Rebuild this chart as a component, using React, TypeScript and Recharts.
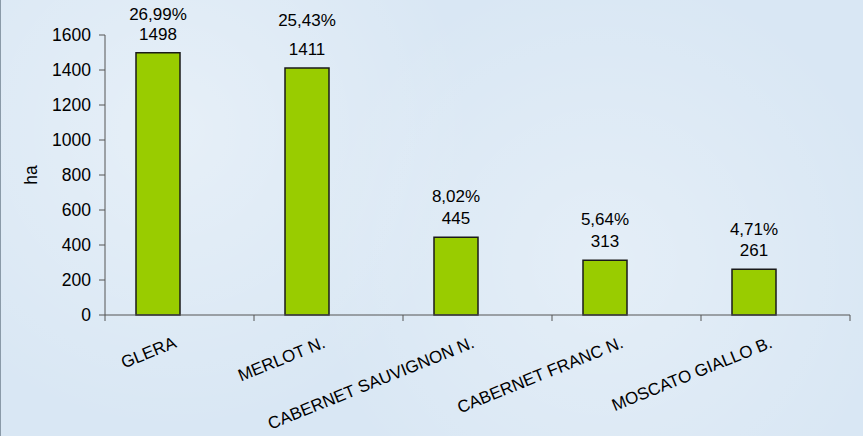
import React from 'react';
import { BarChart, Bar, XAxis, YAxis } from 'recharts';

const categories = ['GLERA', 'MERLOT N.', 'CABERNET SAUVIGNON N.', 'CABERNET FRANC N.', 'MOSCATO GIALLO B.'];
const hectares = [1498, 1411, 445, 313, 261];
const shareValues = [26.99, 25.43, 8.02, 5.64, 4.71];
const yTicks = [0, 200, 400, 600, 800, 1000, 1200, 1400, 1600];

// vertical gap between the % line and the value line (labels were hand-placed in the original)
const labelSpacing = [20, 29, 22, 22, 21];

const WIDTH = 863;
const HEIGHT = 436;
const MARGIN = { top: 35, right: 13, left: 0, bottom: 61 };
const Y_AXIS_W = 105;
const PLOT_W = WIDTH - MARGIN.left - MARGIN.right - Y_AXIS_W;
const AXIS = '#555555';
const FONT = '"Liberation Sans", Arial, sans-serif';

const data = categories.map((name, i) => ({
  name,
  ha: hectares[i],
  share: shareValues[i],
}));

const formatShare = (v: number) => v.toFixed(2).replace('.', ',') + '%';

const CategoryTick = (props: any) => {
  const { x, y, payload, index } = props;
  const band = PLOT_W / categories.length;
  const ax = x - 2;
  const ay = y + 32;
  return (
    <g>
      <line x1={x - band / 2} y1={y} x2={x - band / 2} y2={y + 6} stroke={AXIS} />
      {index === categories.length - 1 && (
        <line x1={x + band / 2} y1={y} x2={x + band / 2} y2={y + 6} stroke={AXIS} />
      )}
      <text
        x={ax}
        y={ay}
        textAnchor="end"
        transform={`rotate(-22 ${ax} ${ay})`}
        fontSize={17}
        fontFamily={FONT}
        fill="#000"
      >
        {payload.value}
      </text>
    </g>
  );
};

const BarLabels = (props: any) => {
  const { x, y, width, index } = props;
  const cx = x + width / 2;
  const numY = y - 13;
  return (
    <g fontFamily={FONT} fontSize={17} fill="#000" textAnchor="middle">
      <text x={cx} y={numY}>{hectares[index]}</text>
      <text x={cx} y={numY - labelSpacing[index]}>{formatShare(shareValues[index])}</text>
    </g>
  );
};

const AxisTitle = (props: any) => {
  const { viewBox } = props;
  const tx = viewBox.x + 37;
  const ty = viewBox.y + viewBox.height / 2;
  return (
    <text
      x={tx}
      y={ty}
      textAnchor="middle"
      transform={`rotate(-90 ${tx} ${ty})`}
      fontSize={17.5}
      fontFamily={FONT}
      fill="#000"
    >
      ha
    </text>
  );
};

export default function App() {
  return (
    <div
      style={{
        position: 'absolute',
        left: 0,
        top: 0,
        width: WIDTH,
        height: HEIGHT,
        background:
          'radial-gradient(circle at 20% 30%, rgba(255,255,255,0.35), transparent 40%), radial-gradient(circle at 70% 60%, rgba(255,255,255,0.3), transparent 45%), #d9e7f4',
        borderLeft: '1px solid #8a9aa8',
        boxSizing: 'border-box',
      }}
    >
      <BarChart
        width={WIDTH}
        height={HEIGHT}
        data={data}
        margin={MARGIN}
        barCategoryGap={31}
        barGap={0}
        style={{ marginLeft: -1 }}
      >
        <XAxis
          dataKey="name"
          interval={0}
          height={60}
          stroke={AXIS}
          tickLine={false}
          tickSize={0}
          tickMargin={0}
          tick={<CategoryTick />}
        />
        <YAxis
          width={Y_AXIS_W}
          domain={[0, 1600]}
          ticks={yTicks}
          interval={0}
          stroke={AXIS}
          tickSize={6}
          tickMargin={8}
          tick={{ fill: '#000', fontSize: 17.5, fontFamily: FONT }}
          label={<AxisTitle />}
        />
        <Bar
          dataKey="ha"
          fill="#99cc00"
          stroke="#1a1a1a"
          strokeWidth={1.5}
          isAnimationActive={false}
          label={<BarLabels />}
        />
        <Bar dataKey="share" fill="transparent" stroke="none" isAnimationActive={false} />
      </BarChart>
    </div>
  );
}
